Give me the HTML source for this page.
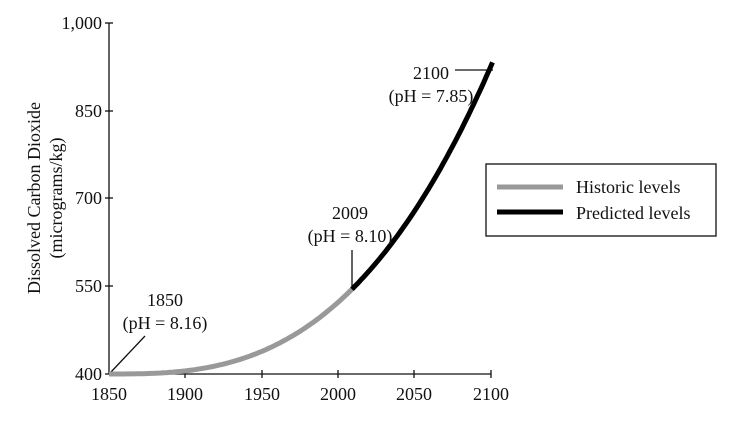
<!DOCTYPE html>
<html><head><style>
html,body{margin:0;padding:0;background:#fff;}
svg text{font-family:"Liberation Serif","Times New Roman",serif;font-size:18px;fill:#111;}
</style></head><body>
<svg id="s" width="733" height="416" viewBox="0 0 733 416" xmlns="http://www.w3.org/2000/svg">
<g stroke="#111" stroke-width="1.3" fill="none">
<line x1="109" y1="23" x2="109" y2="374"/>
<line x1="109" y1="374" x2="491" y2="374"/>
<line x1="105" y1="23" x2="113" y2="23"/>
<line x1="105" y1="111" x2="113" y2="111"/>
<line x1="105" y1="198" x2="113" y2="198"/>
<line x1="105" y1="286" x2="113" y2="286"/>
<line x1="105" y1="374" x2="113" y2="374"/>
<line x1="185" y1="370" x2="185" y2="378"/>
<line x1="262" y1="370" x2="262" y2="378"/>
<line x1="338" y1="370" x2="338" y2="378"/>
<line x1="414" y1="370" x2="414" y2="378"/>
<line x1="491" y1="370" x2="491" y2="378"/>
<line x1="145" y1="336" x2="111" y2="372"/>
<line x1="352" y1="250" x2="352" y2="290"/>
<line x1="455" y1="70" x2="493" y2="70"/>
</g>
<path id="hist" stroke="#999" stroke-width="5" fill="none"/>
<path id="pred" stroke="#000" stroke-width="5" fill="none"/>
<g text-anchor="end">
<text x="102" y="29">1,000</text>
<text x="102" y="117">850</text>
<text x="102" y="204">700</text>
<text x="102" y="292">550</text>
<text x="102" y="380">400</text>
</g>
<g text-anchor="middle">
<text x="109" y="400">1850</text>
<text x="185" y="400">1900</text>
<text x="262" y="400">1950</text>
<text x="338" y="400">2000</text>
<text x="414" y="400">2050</text>
<text x="491" y="400">2100</text>
<text x="165" y="306">1850</text>
<text x="165" y="329">(pH = 8.16)</text>
<text x="350" y="219">2009</text>
<text x="350" y="242">(pH = 8.10)</text>
<text x="431" y="79">2100</text>
<text x="431" y="102">(pH = 7.85)</text>
<text transform="translate(40,198) rotate(-90)">Dissolved Carbon Dioxide</text>
<text transform="translate(62,198) rotate(-90)">(micrograms/kg)</text>
</g>
<rect x="486" y="164" width="230" height="72" fill="#fff" stroke="#111" stroke-width="1.3"/>
<line x1="497" y1="187" x2="563" y2="187" stroke="#999" stroke-width="5"/>
<line x1="497" y1="212" x2="563" y2="212" stroke="#000" stroke-width="5"/>
<text x="576" y="193">Historic levels</text>
<text x="576" y="219">Predicted levels</text>
</svg>
<script>
var c=145/Math.pow(159,2.85);
function pt(t){var v=400+c*Math.pow(t,2.85);return (109+t*1.528).toFixed(1)+","+(374-(v-400)*0.585).toFixed(1);}
var h="M"+pt(0),p="M"+pt(159);
for(var t=2;t<=159;t+=2)h+=" L"+pt(t);
h+=" L"+pt(159);
for(var t=161;t<=252;t+=2)p+=" L"+pt(t);
document.getElementById("hist").setAttribute("d",h);
document.getElementById("pred").setAttribute("d",p);
</script>
</body></html>
